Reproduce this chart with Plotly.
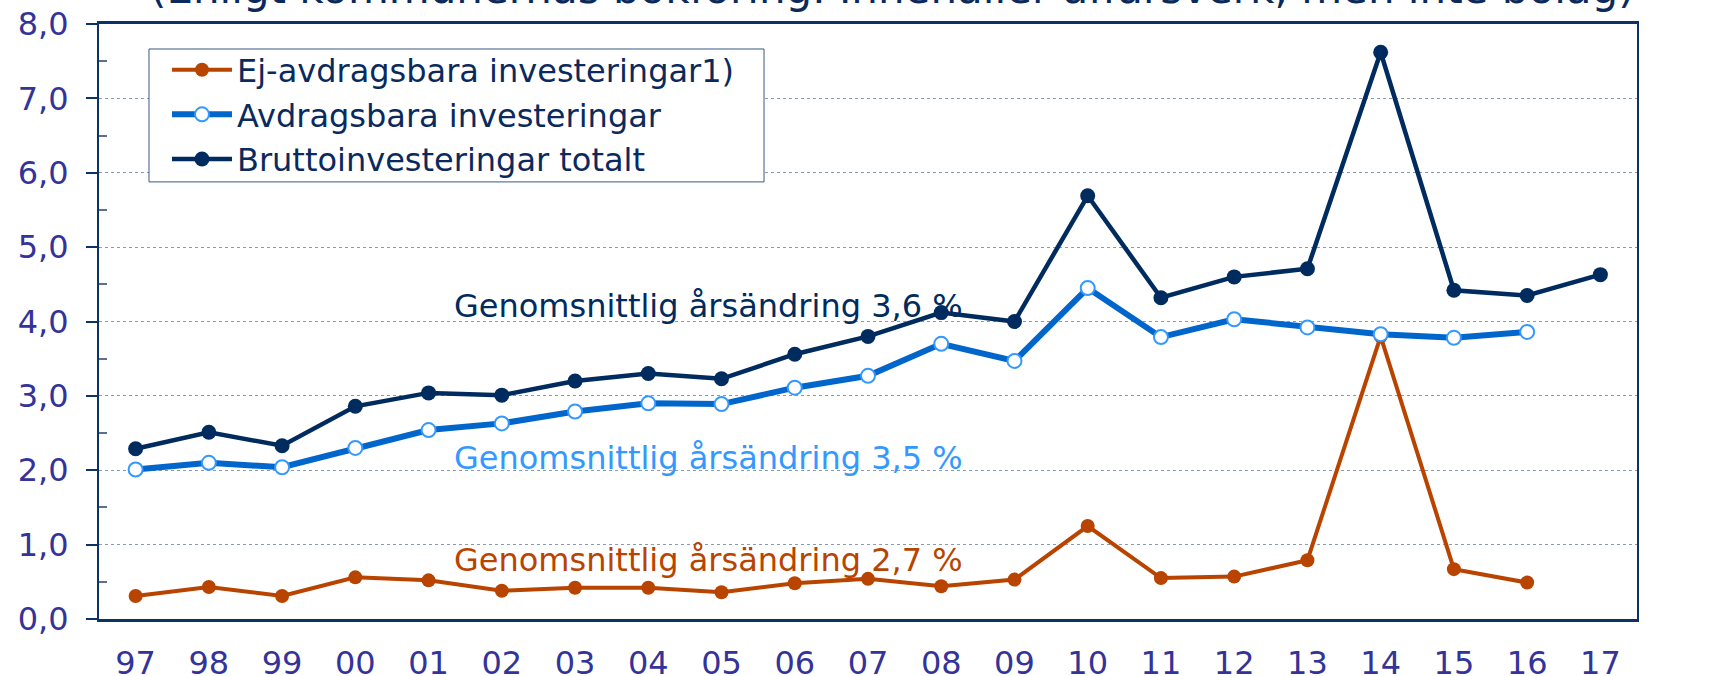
import plotly.graph_objects as go

years = ["97", "98", "99", "00", "01", "02", "03", "04", "05", "06", "07",
         "08", "09", "10", "11", "12", "13", "14", "15", "16", "17"]

ej_avdragsbara = [0.31, 0.43, 0.31, 0.56, 0.52, 0.38, 0.42, 0.42, 0.36, 0.48, 0.54,
                  0.44, 0.53, 1.25, 0.55, 0.57, 0.79, 3.80, 0.67, 0.49, None]
avdragsbara = [2.01, 2.10, 2.04, 2.30, 2.54, 2.63, 2.79, 2.90, 2.89, 3.11, 3.27,
               3.70, 3.47, 4.45, 3.79, 4.03, 3.92, 3.83, 3.78, 3.86, None]
brutto = [2.29, 2.51, 2.33, 2.86, 3.04, 3.01, 3.20, 3.30, 3.23, 3.56, 3.80,
          4.12, 4.00, 5.69, 4.32, 4.60, 4.71, 7.62, 4.42, 4.35, 4.63]

series_names = ["Ej-avdragsbara investeringar1)", "Avdragsbara investeringar",
                "Bruttoinvesteringar totalt"]
y_ticks = [0, 1, 2, 3, 4, 5, 6, 7, 8]
y_ticktext = ["0,0", "1,0", "2,0", "3,0", "4,0", "5,0", "6,0", "7,0", "8,0"]
y_minor = [0.5, 1.5, 2.5, 3.5, 4.5, 5.5, 6.5, 7.5]

notes = ["Genomsnittlig årsändring 3,6 %", "Genomsnittlig årsändring 3,5 %",
         "Genomsnittlig årsändring 2,7 %"]
note_y = [4.21, 2.17, 0.80]
title_text = "(Enligt kommunernas bokföring. Innehåller affärsverk, men inte bolag)"

NAVY = "#002B5E"
BLUE = "#0066CC"
LBLUE = "#3399FF"
ORANGE = "#B84400"
TICK = "#333399"
AXIS = "#0D3366"
FONT = "DejaVu Sans"

xpos = list(range(len(years)))
bounds = [i - 0.5 for i in range(len(years) + 1)]
xr = [-0.5, len(years) - 0.5]

fig = go.Figure()
fig.add_trace(go.Scatter(
    x=xpos, y=ej_avdragsbara, name=series_names[0], mode="lines+markers",
    line=dict(color=ORANGE, width=4),
    marker=dict(color=ORANGE, size=14, line=dict(width=0))))
fig.add_trace(go.Scatter(
    x=xpos, y=avdragsbara, name=series_names[1], mode="lines+markers",
    line=dict(color=BLUE, width=6),
    marker=dict(color="white", size=14, line=dict(color=LBLUE, width=2))))
fig.add_trace(go.Scatter(
    x=xpos, y=brutto, name=series_names[2], mode="lines+markers",
    line=dict(color=NAVY, width=4.5),
    marker=dict(color=NAVY, size=15, line=dict(width=0))))

tickfont = dict(family=FONT, size=32, color=TICK)

fig.update_layout(
    template="none",
    width=1727, height=676,
    margin=dict(l=99, r=90, t=24, b=57),
    paper_bgcolor="white", plot_bgcolor="white",
    showlegend=True,
    legend=dict(x=0.0442, y=0.969, xanchor="left", yanchor="top",
                bgcolor="rgba(0,0,0,0)", borderwidth=0,
                font=dict(family=FONT, size=32, color="#0A2A5E"),
                itemwidth=60, tracegroupgap=0),
    xaxis=dict(range=xr, tickmode="array", tickvals=xpos, ticktext=years,
               ticks="", showgrid=False, zeroline=False, automargin=False,
               showline=True, linecolor=AXIS, linewidth=2.5, mirror=True,
               tickfont=tickfont, ticklabelstandoff=14),
    xaxis2=dict(range=xr, overlaying="x", anchor="y", side="bottom",
                tickmode="array", tickvals=bounds, ticks="outside", ticklen=11,
                tickcolor=AXIS, tickwidth=1.5, showticklabels=False, automargin=False,
                showgrid=False, zeroline=False, showline=False),
    xaxis3=dict(range=xr, overlaying="x", anchor="y", side="bottom",
                tickmode="array", tickvals=bounds, ticks="inside", ticklen=10,
                tickcolor=AXIS, tickwidth=1.5, showticklabels=False, automargin=False,
                showgrid=False, zeroline=False, showline=False),
    yaxis=dict(range=[0, 8], tickmode="array", tickvals=y_ticks, ticktext=y_ticktext,
               ticks="outside", ticklen=11, tickcolor=AXIS, tickwidth=1.5,
               showgrid=True, gridcolor="#8A9AB2", gridwidth=1, griddash="dot",
               zeroline=False, showline=True, linecolor=AXIS, linewidth=2,
               mirror=True, tickfont=tickfont, ticklabelstandoff=11, automargin=False,
               minor=dict(tickmode="array", tickvals=y_minor, ticks="inside",
                          ticklen=8, tickcolor="#5A7090", tickwidth=1.5,
                          showgrid=False)),
    yaxis2=dict(range=[0, 8], overlaying="y", side="right", anchor="x",
                tickmode="array", tickvals=y_ticks, ticktext=y_ticktext,
                ticks="outside", ticklen=11, tickcolor=AXIS, tickwidth=1.5,
                showgrid=False, zeroline=False, showline=False, automargin=False,
                tickfont=tickfont, ticklabelstandoff=27,
                minor=dict(tickmode="array", tickvals=y_minor, ticks="inside",
                           ticklen=8, tickcolor="#5A7090", tickwidth=1.5)),
    yaxis3=dict(range=[0, 8], overlaying="y", side="left", anchor="x",
                tickmode="array", tickvals=y_ticks, ticks="inside", ticklen=11,
                tickcolor=AXIS, tickwidth=1.5, showticklabels=False, automargin=False,
                showgrid=False, zeroline=False, showline=False),
    yaxis4=dict(range=[0, 8], overlaying="y", side="right", anchor="x",
                tickmode="array", tickvals=y_ticks, ticks="inside", ticklen=11,
                tickcolor=AXIS, tickwidth=1.5, showticklabels=False, automargin=False,
                showgrid=False, zeroline=False, showline=False),
)

# legend frame
fig.add_shape(type="rect", xref="paper", yref="paper",
              x0=0.0325, x1=0.4324, y0=0.7346, y1=0.958,
              line=dict(color="#3A5A80", width=1), fillcolor="white", layer="above")

note_colors = [NAVY, LBLUE, ORANGE]
for txt, yv, col in zip(notes, note_y, note_colors):
    fig.add_annotation(text=txt, x=0.2295, xref="paper", y=yv, yref="y",
                       xanchor="left", yanchor="middle", showarrow=False,
                       font=dict(family=FONT, size=32, color=col))

fig.add_annotation(text=title_text, x=0.516, xref="paper", y=1.0595, yref="paper",
                   xanchor="center", yanchor="middle", showarrow=False,
                   font=dict(family=FONT, size=42, color="#0A2A5E"))

fig.write_html("out.html", config={"displayModeBar": False},
               post_script="document.body.style.margin='0px';")
